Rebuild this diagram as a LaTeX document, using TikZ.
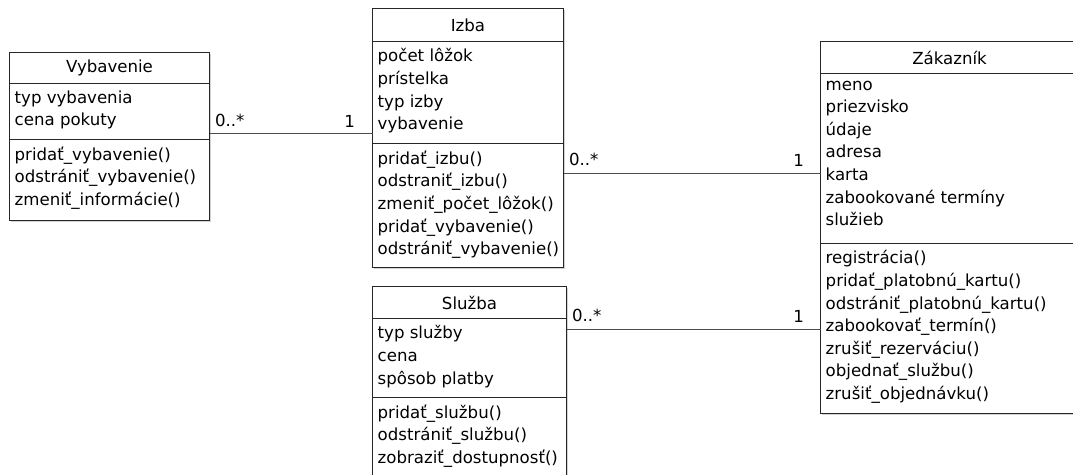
\documentclass[tikz,border=0pt]{standalone}
\usepackage{fontspec}
\setmainfont{DejaVu Sans}
\usetikzlibrary{shadows}
\definecolor{assoc}{RGB}{64,64,170}
\tikzset{
  cls/.style={draw=black!85, line width=1pt, fill=white, anchor=north west, inner sep=0pt, outer sep=0pt,
    drop shadow={shadow xshift=1pt, shadow yshift=-1pt, opacity=.35}},
  members/.style={anchor=north west, align=left, inner xsep=5pt, inner ysep=7pt,
    execute at begin node=\rule{0pt}{14pt}},
  assocline/.style={draw=assoc, line width=1pt},
  mult/.style={inner sep=0pt}
}
\begin{document}
\begin{tikzpicture}[x=1pt, y=-1pt, font=\fontsize{16.6}{22.6}\selectfont]
  \clip (0,0) rectangle (1073,474);
  % Vybavenie
  \node [cls, minimum width=200pt, minimum height=31pt] (vyb) at (9.5,52.5) {Vybavenie};
  \node [cls, minimum width=200pt, minimum height=56pt] (vybattr) at (vyb.south west) {};
  \node [members] (vybattrtxt) at (vybattr.north west) {typ vybavenia\\cena pokuty};
  \node [cls, minimum width=200pt, minimum height=81pt] (vybops) at (vybattr.south west) {};
  \node [members] (vybopstxt) at (vybops.north west) {pridať\_vybavenie()\\odstrániť\_vybavenie()\\zmeniť\_informácie()};
  % Izba
  \node [cls, minimum width=191pt, minimum height=33pt] (izba) at (372.5,8.5) {Izba};
  \node [cls, minimum width=191pt, minimum height=102pt] (izbaattr) at (izba.south west) {};
  \node [members] (izbaattrtxt) at (izbaattr.north west) {počet lôžok\\prístelka\\typ izby\\vybavenie};
  \node [cls, minimum width=191pt, minimum height=124pt] (izbaops) at (izbaattr.south west) {};
  \node [members] (izbaopstxt) at (izbaops.north west) {pridať\_izbu()\\odstraniť\_izbu()\\zmeniť\_počet\_lôžok()\\pridať\_vybavenie()\\odstrániť\_vybavenie()};
  % Sluzba
  \node [cls, minimum width=194pt, minimum height=32pt] (sl) at (372.5,286.5) {Služba};
  \node [cls, minimum width=194pt, minimum height=79pt] (slattr) at (sl.south west) {};
  \node [members] (slattrtxt) at (slattr.north west) {typ služby\\cena\\spôsob platby};
  \node [cls, minimum width=194pt, minimum height=90pt] (slops) at (slattr.south west) {};
  \node [members] (slopstxt) at (slops.north west) {pridať\_službu()\\odstrániť\_službu()\\zobraziť\_dostupnosť()};
  % Zakaznik
  \node [cls, minimum width=258pt, minimum height=32pt] (zak) at (820.5,41.5) {Zákazník};
  \node [cls, minimum width=258pt, minimum height=170pt] (zakattr) at (zak.south west) {};
  \node [members] (zakattrtxt) at (zakattr.north west) {meno\\priezvisko\\údaje\\adresa\\karta\\zabookované termíny\\služieb};
  \node [cls, minimum width=258pt, minimum height=170pt] (zakops) at (zakattr.south west) {};
  \node [members] (zakopstxt) at (zakops.north west) {registrácia()\\pridať\_platobnú\_kartu()\\odstrániť\_platobnú\_kartu()\\zabookovať\_termín()\\zrušiť\_rezerváciu()\\objednať\_službu()\\zrušiť\_objednávku()};
  % associations
  \draw [assocline] ([yshift=6pt]vybattr.south east) coordinate (v1) -- (v1 -| izbaattr.west)
    node [mult, pos=0, anchor=south west, xshift=5pt, yshift=6pt] {0..*}
    node [mult, pos=1, anchor=south east, xshift=-17pt, yshift=6pt] {1};
  \draw [assocline] ([yshift=-30pt]izbaops.north east) coordinate (v2) -- (v2 -| zakattr.west)
    node [mult, pos=0, anchor=south west, xshift=5pt, yshift=7pt] {0..*}
    node [mult, pos=1, anchor=south east, xshift=-16pt, yshift=7pt] {1};
  \draw [assocline] ([yshift=-11pt]slattr.north east) coordinate (v3) -- (v3 -| zakops.west)
    node [mult, pos=0, anchor=south west, xshift=5pt, yshift=7pt] {0..*}
    node [mult, pos=1, anchor=south east, xshift=-16pt, yshift=7pt] {1};
\end{tikzpicture}
\end{document}
